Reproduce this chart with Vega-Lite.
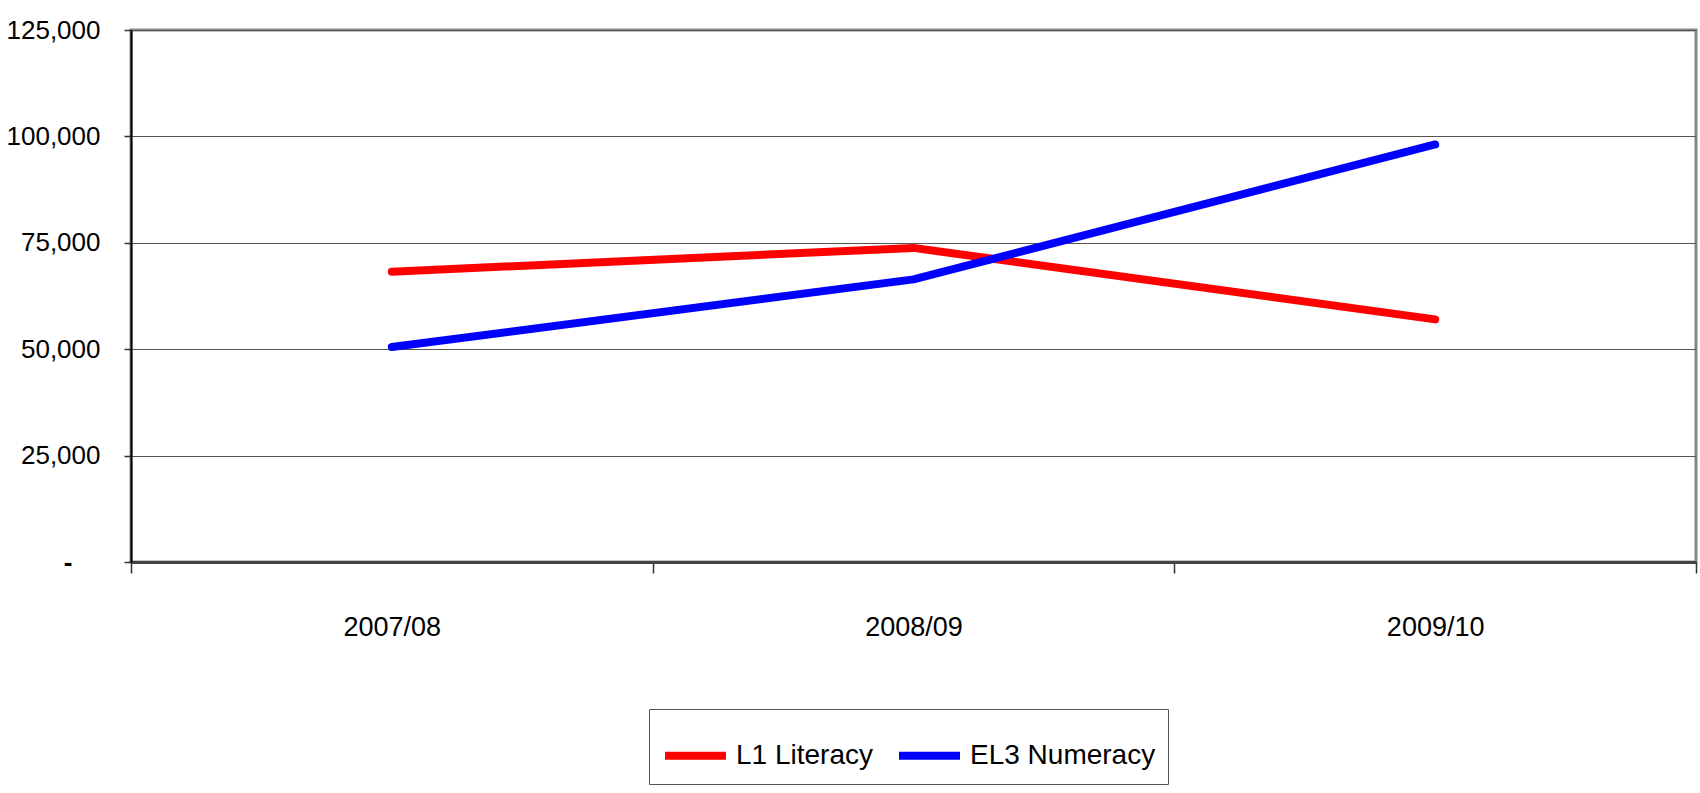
{
  "$schema": "https://vega.github.io/schema/vega-lite/v6.json",
  "autosize": {"type": "none"},
  "padding": {"left": 131, "top": 30, "right": 4, "bottom": 231},
  "width": 1565,
  "height": 532,
  "background": "white",
  "config": {
    "font": "Liberation Sans, Arial, sans-serif",
    "view": {"stroke": "#888888", "strokeWidth": 3}
  },
  "data": {
    "values": [
      {"year": "2007/08", "series": "L1 Literacy", "value": 68200},
      {"year": "2008/09", "series": "L1 Literacy", "value": 73800},
      {"year": "2009/10", "series": "L1 Literacy", "value": 57000},
      {"year": "2007/08", "series": "EL3 Numeracy", "value": 50500},
      {"year": "2008/09", "series": "EL3 Numeracy", "value": 66400},
      {"year": "2009/10", "series": "EL3 Numeracy", "value": 98100}
    ]
  },
  "mark": {"type": "line", "strokeWidth": 8, "strokeCap": "round", "strokeJoin": "round"},
  "encoding": {
    "x": {
      "field": "year",
      "type": "ordinal",
      "scale": {"type": "band", "paddingInner": 0, "paddingOuter": 0},
      "axis": {
        "title": null,
        "labelAngle": 0,
        "tickBand": "extent",
        "tickSize": 11,
        "tickColor": "#333333",
        "tickWidth": 1.5,
        "domainColor": "#444444",
        "domainWidth": 3,
        "labelFontSize": 27,
        "labelColor": "black",
        "labelPadding": 41,
        "grid": false
      }
    },
    "y": {
      "field": "value",
      "type": "quantitative",
      "scale": {"domain": [0, 125000], "nice": false},
      "axis": {
        "title": null,
        "values": [0, 25000, 50000, 75000, 100000, 125000],
        "labelExpr": "datum.value === 0 ? '-' : format(datum.value, ',')",
        "labelFontSize": 26,
        "labelColor": "black",
        "labelFontWeight": {"condition": {"test": "datum.value === 0", "value": "bold"}, "value": "normal"},
        "labelAlign": "right",
        "labelBaseline": "middle",
        "labelPadding": {"condition": {"test": "datum.value === 0", "value": 52}, "value": 24},
        "tickSize": 7,
        "tickColor": "#333333",
        "tickWidth": 1.5,
        "domainColor": "black",
        "domainWidth": 2,
        "grid": true,
        "gridColor": "#555555",
        "gridWidth": 1.2
      }
    },
    "color": {
      "field": "series",
      "type": "nominal",
      "scale": {"domain": ["L1 Literacy", "EL3 Numeracy"], "range": ["#FF0000", "#0000FF"]},
      "legend": {
        "title": null,
        "orient": "none",
        "legendX": 518,
        "legendY": 679,
        "direction": "horizontal",
        "symbolType": "stroke",
        "symbolSize": 3721,
        "symbolStrokeWidth": 8,
        "labelFontSize": 28,
        "labelLimit": 500,
        "labelColor": "black",
        "labelOffset": 6,
        "columnPadding": 10,
        "strokeColor": "#555555",
        "padding": 12
      }
    }
  }
}
